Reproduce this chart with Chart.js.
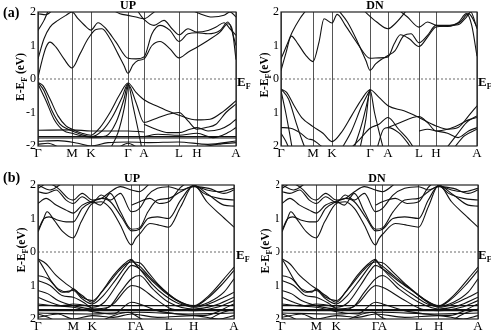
<!DOCTYPE html>
<html>
<head>
<meta charset="utf-8">
<script src="https://cdn.jsdelivr.net/npm/chart.js@4.4.1/dist/chart.umd.min.js"></script>
<style>
  body { margin: 0; background: #fff; overflow: hidden; }
  #fig { position: relative; width: 491px; height: 332px; font-family: "Liberation Serif", "DejaVu Serif", serif; }
  canvas { position: absolute; }
  .lbl { position: absolute; font-weight: bold; color: #000; white-space: nowrap; line-height: 1; }
  .panel { font-size: 14px; }
  .ef { font-size: 13px; }
  .ef sub, .yt sub { font-size: 8px; vertical-align: -3px; }
  .yt { font-size: 11.5px; transform: translate(-50%, -50%) rotate(-90deg); }
</style>
</head>
<body>
<div id="fig">
  <canvas id="aUp" width="245" height="165" style="left:0;top:0"></canvas>
  <canvas id="aDn" width="246" height="165" style="left:245px;top:0"></canvas>
  <canvas id="bUp" width="245" height="159" style="left:0;top:173px"></canvas>
  <canvas id="bDn" width="246" height="159" style="left:245px;top:173px"></canvas>

  <div class="lbl panel" style="left:3px;top:6px">(a)</div>
  <div class="lbl panel" style="left:3px;top:171px">(b)</div>

  <div class="lbl yt" style="left:22px;top:77px">E-E<sub>F</sub> (eV)</div>
  <div class="lbl yt" style="left:266px;top:75px">E-E<sub>F</sub>(eV)</div>
  <div class="lbl yt" style="left:23px;top:250px">E-E<sub>F</sub>(eV)</div>
  <div class="lbl yt" style="left:267px;top:251px">E-E<sub>F</sub>(eV)</div>

  <div class="lbl ef" style="left:237px;top:75px">E<sub>F</sub></div>
  <div class="lbl ef" style="left:478px;top:75px">E<sub>F</sub></div>
  <div class="lbl ef" style="left:236px;top:248px">E<sub>F</sub></div>
  <div class="lbl ef" style="left:478px;top:248px">E<sub>F</sub></div>
</div>

<script>
// k-path labels and positions (path distance, one entry per high-symmetry point)
const kLabels = ["\u0393", "M", "K", "\u0393", "A", "L", "H", "A"];
const kRefA = [0, 34, 53, 90, 106, 141, 159, 198];
const kPathAup = [0, 34, 53, 90, 106, 141, 159, 198];
const kPathAdn = [0, 32, 51, 89, 107, 138, 155, 196];
const kRefB = [0, 35, 54, 93, 101, 132, 155, 195];
const kPathBup = [0, 35, 54, 93, 101, 130, 155, 195];
const kPathBdn = [0, 34, 54, 93, 100, 136, 156, 195];
const eTicks = [-2, -1, 0, 1, 2];

// (a) spin up bands: [k, E] pairs, k on kRefA
const bandsAup = [
  [[0,0.05],[4,0.55],[8,0.95],[12,1.1],[18,0.95],[26,0.6],[34,0.33],[42,0.75],[50,1.2],[58,1.48],[64,1.5],[72,1.2],[80,0.75],[86,0.4],[90,0.17],[95,0.42],[100,0.55],[106,0.6],[114,1.0],[122,1.12],[132,0.9],[141,0.63],[150,0.8],[159,0.95],[170,1.15],[182,1.4],[190,1.65],[194,1.5],[198,0.58]],
  [[0,0.6],[6,1.2],[12,1.55],[20,1.75],[28,1.9],[34,2.0],[40,1.8],[46,1.62],[53,1.46],[60,1.68],[68,1.5],[78,1.1],[90,0.62],[98,0.6],[106,0.66],[114,1.35],[122,1.6],[132,1.45],[141,1.12],[150,1.35],[159,1.38],[170,1.35],[182,1.45],[190,1.7],[198,1.0]],
  [[0,1.45],[6,1.75],[11,2.1]],
  [[0,1.95],[8,1.92],[16,2.1]],
  [[72,2.1],[82,1.95],[90,1.9],[98,1.85],[106,1.8],[114,1.95],[120,2.1]],
  [[98,2.1],[106,1.78],[116,1.6],[126,1.75],[134,1.5],[141,1.32],[150,1.5],[159,1.4],[170,1.45],[178,1.55],[186,1.68],[192,1.5],[198,1.3]],
  [[150,2.1],[162,1.95],[174,1.85],[186,1.9],[192,2.0],[198,1.85]],
  [[0,-0.1],[5,-0.2],[12,-0.6],[20,-1.1],[28,-1.4],[34,-1.5],[44,-1.62],[53,-1.68],[62,-1.45],[72,-1.0],[82,-0.45],[90,-0.12],[98,-0.4],[106,-0.62],[120,-0.82],[132,-0.98],[141,-1.08],[159,-1.22],[172,-1.2],[186,-0.95],[198,-0.65]],
  [[0,-0.1],[6,-0.35],[14,-0.95],[22,-1.35],[30,-1.5],[34,-1.55],[53,-1.72],[64,-1.55],[74,-1.15],[84,-0.55],[90,-0.14],[95,-0.8],[100,-1.5],[104,-2.1]],
  [[0,-0.15],[8,-0.65],[16,-1.2],[26,-1.55],[34,-1.62],[44,-1.7],[53,-1.74],[68,-1.7],[78,-1.3],[86,-0.6],[90,-0.16],[98,-0.7],[106,-1.3],[116,-1.2],[130,-1.05],[141,-1.0],[150,-1.25],[159,-1.5],[168,-1.45],[178,-1.35],[188,-1.0],[198,-0.75]],
  [[72,-2.1],[80,-1.6],[86,-0.9],[90,-0.18]],
  [[106,-1.35],[118,-1.5],[130,-1.6],[141,-1.6],[152,-1.5],[159,-1.45],[170,-1.55],[182,-1.5],[192,-1.35],[198,-1.2]],
  [[106,-1.72],[120,-1.65],[141,-1.68],[159,-1.62],[175,-1.75],[190,-1.6],[198,-1.45]],
  [[0,-1.53],[34,-1.52],[53,-1.55],[90,-1.55],[106,-1.58]],
  [[0,-1.72],[198,-1.72]],
  [[0,-1.76],[198,-1.76]],
  [[0,-1.86],[20,-1.84],[40,-1.92],[53,-2.0],[70,-1.9],[90,-1.88],[110,-1.9],[140,-1.88],[170,-1.95],[198,-1.85]],
  [[0,-1.95],[10,-1.92],[22,-2.05]],
  [[160,-2.05],[180,-1.95],[198,-1.9]],
  [[80,-2.05],[90,-1.92],[100,-2.05]]
];

// (a) spin down bands, k on kRefA
const bandsAdn = [
  [[0,0.25],[5,0.75],[11,1.28],[18,1.05],[26,0.72],[34,0.52],[40,1.1],[45,1.8],[53,1.67],[58,1.93],[66,1.6],[78,1.05],[90,0.62],[98,0.63],[106,0.66],[113,1.05],[120,1.32],[130,1.2],[141,0.97],[150,1.25],[159,1.55],[170,1.58],[180,1.68],[188,1.95],[193,1.6],[198,0.68]],
  [[58,2.1],[68,1.7],[78,1.1],[86,0.55],[90,0.26],[95,0.45],[100,0.58],[106,0.7],[114,0.85],[124,1.3],[132,1.35],[141,1.08],[150,1.3],[159,1.6],[170,1.6],[180,1.62],[188,1.85],[192,2.0],[198,1.5]],
  [[0,0.6],[6,1.0],[12,1.4],[20,1.8],[28,2.1]],
  [[82,2.1],[96,1.7],[106,1.5],[114,1.65],[124,1.95],[128,2.1]],
  [[116,2.1],[128,1.85],[141,1.55],[150,1.7],[159,1.6],[170,1.57],[182,1.7],[190,1.95],[198,1.55]],
  [[0,-0.3],[6,-0.4],[14,-0.8],[22,-1.15],[34,-1.42],[44,-1.62],[53,-1.87],[62,-1.6],[72,-1.1],[82,-0.6],[90,-0.32],[98,-0.55],[106,-0.8],[124,-0.95],[141,-1.15],[159,-1.4],[170,-1.5],[180,-1.45],[190,-1.1],[198,-0.8]],
  [[0,-0.3],[8,-0.6],[16,-1.3],[22,-1.8],[26,-2.1]],
  [[0,-0.35],[5,-1.0],[9,-1.6],[12,-2.1]],
  [[0,-1.45],[10,-1.47],[20,-1.6],[28,-1.78],[34,-1.82],[40,-1.95],[46,-2.1]],
  [[0,-1.62],[5,-1.85],[9,-2.1]],
  [[62,-2.1],[72,-1.55],[82,-0.8],[90,-0.32]],
  [[74,-2.1],[82,-1.35],[88,-0.6],[90,-0.32]],
  [[80,-2.1],[86,-1.2],[90,-0.33],[94,-1.0],[99,-1.7],[102,-2.1]],
  [[70,-2.1],[80,-1.8],[90,-1.47],[98,-1.35],[106,-1.15],[118,-1.5],[130,-1.85],[136,-2.1]],
  [[96,-2.1],[102,-1.5],[106,-1.45],[118,-1.6],[128,-1.9],[133,-2.1]],
  [[106,-1.45],[120,-1.3],[134,-1.15],[141,-1.12],[150,-1.3],[159,-1.55],[170,-1.5],[180,-1.38],[190,-1.22],[198,-1.15]],
  [[141,-1.55],[150,-1.5],[159,-1.55],[170,-1.62],[180,-1.75],[190,-1.55],[198,-1.45]],
  [[168,-2.1],[178,-1.7],[188,-1.3],[198,-1.1]],
  [[175,-2.1],[186,-1.7],[198,-1.5]]
];

// (b) bands, k on kRefB (up and down channels read the same)
const bandsB = [
  [[0,0.6],[5,0.95],[9,1.2],[16,0.95],[25,0.6],[35,0.42],[43,0.9],[54,1.45],[63,1.5],[72,1.3],[82,0.8],[93,0.21],[97,0.4],[101,0.53],[112,0.85],[122,0.8],[132,0.74],[143,1.35],[155,2.0],[168,1.5],[182,1.1],[195,0.74]],
  [[0,0.65],[6,1.0],[11,1.05],[20,0.95],[28,0.9],[35,0.9],[44,1.3],[54,1.5],[63,1.6],[72,1.5],[84,1.0],[93,0.63],[101,0.68],[110,1.0],[120,1.05],[132,1.0],[143,1.55],[155,1.98],[170,1.7],[185,1.4],[195,1.37]],
  [[0,1.45],[8,1.6],[18,1.4],[28,1.25],[35,1.16],[44,1.4],[54,1.5],[62,1.4],[72,1.75],[82,1.2],[93,0.68],[101,0.72],[110,1.2],[120,1.55],[132,1.6],[143,1.8],[155,1.97],[165,1.75],[180,1.6],[195,1.55]],
  [[0,1.8],[8,1.75],[18,1.85],[28,1.55],[35,1.45],[44,1.65],[54,1.48],[63,1.7],[72,1.55],[82,1.75],[93,1.2],[101,1.3],[110,1.7],[120,1.9],[132,1.95],[143,1.85],[155,1.95],[170,1.9],[185,1.75],[195,1.85]],
  [[0,1.9],[10,2.05],[20,1.9],[30,1.6],[35,1.55],[44,1.75],[54,1.55],[63,1.6],[72,1.8],[82,1.95],[93,1.85],[101,1.8],[112,2.05]],
  [[0,2.0],[12,1.85],[24,2.05]],
  [[93,1.4],[101,1.5],[112,1.6],[122,1.45],[132,1.5],[142,1.9],[150,2.1]],
  [[155,2.0],[168,1.85],[180,1.8],[195,1.9]],
  [[0,-0.2],[8,-0.35],[18,-0.7],[28,-0.95],[35,-1.1],[44,-1.3],[54,-1.5],[63,-1.2],[75,-0.7],[86,-0.35],[93,-0.22],[97,-0.35],[101,-0.42],[112,-0.75],[125,-1.1],[140,-1.45],[155,-1.6],[170,-1.3],[185,-0.8],[195,-0.45]],
  [[0,-0.2],[6,-0.5],[14,-0.9],[24,-1.2],[35,-1.15],[44,-1.4],[54,-1.55],[65,-1.3],[78,-0.8],[88,-0.4],[93,-0.25],[98,-0.4],[101,-0.5],[114,-0.95],[128,-1.3],[142,-1.55],[155,-1.62],[168,-1.4],[182,-1.0],[195,-0.55]],
  [[0,-0.7],[10,-0.8],[20,-1.1],[30,-1.2],[35,-1.1],[44,-1.35],[54,-1.45],[66,-1.1],[78,-0.65],[88,-0.35],[93,-0.3],[101,-0.32],[110,-0.6],[122,-1.0],[138,-1.4],[155,-1.62],[170,-1.5],[185,-1.2],[195,-0.8]],
  [[0,-0.85],[12,-1.0],[24,-1.3],[35,-1.35],[45,-1.5],[54,-1.65],[66,-1.5],[78,-1.0],[88,-0.55],[93,-0.4],[101,-0.5],[114,-0.85],[130,-1.25],[145,-1.55],[155,-1.65],[170,-1.55],[185,-1.35],[195,-1.2]],
  [[0,-1.15],[10,-1.25],[20,-1.45],[35,-1.6],[54,-1.7],[70,-1.65],[82,-1.2],[93,-0.8],[101,-0.7],[115,-1.1],[132,-1.5],[155,-1.7],[175,-1.6],[195,-1.35]],
  [[0,-1.35],[12,-1.5],[24,-1.6],[35,-1.55],[48,-1.6],[60,-1.75],[75,-1.55],[88,-1.1],[93,-1.0],[101,-1.05],[118,-1.4],[135,-1.7],[155,-1.75],[178,-1.65],[195,-1.45]],
  [[0,-1.55],[15,-1.6],[35,-1.65],[54,-1.78],[75,-1.85],[93,-1.5],[101,-1.55],[120,-1.75],[140,-1.85],[165,-1.9],[195,-1.55]],
  [[0,-1.85],[10,-1.95],[20,-2.1]],
  [[60,-2.1],[75,-1.9],[90,-1.8],[100,-1.95],[110,-2.1]],
  [[165,-2.1],[180,-1.85],[195,-1.7]],
  [[0,-1.6],[195,-1.6]],
  [[0,-1.72],[195,-1.72]],
  [[0,-1.75],[195,-1.75]],
  [[0,-1.82],[50,-1.85],[100,-1.8],[150,-1.85],[195,-1.82]],
  [[0,-1.95],[20,-1.85],[35,-2.0],[54,-1.9],[75,-1.95],[93,-1.85],[120,-1.95],[155,-1.9],[180,-2.0],[195,-1.9]]
];

const serif = "'Liberation Serif', 'DejaVu Serif', serif";

// map a k value on the reference path onto a panel's own path
function mapK(k, ref, path) {
  for (let i = 0; i < ref.length - 1; i++) {
    if (k <= ref[i + 1]) {
      const f = (k - ref[i]) / (ref[i + 1] - ref[i]);
      return path[i] + f * (path[i + 1] - path[i]);
    }
  }
  return path[path.length - 1];
}

const framePlugin = {
  id: "frame",
  afterDatasetsDraw(chart) {
    const { ctx, chartArea: a } = chart;
    ctx.save();
    ctx.strokeStyle = "#222";
    ctx.lineWidth = 1.2;
    ctx.strokeRect(a.left, a.top, a.right - a.left, a.bottom - a.top);
    ctx.restore();
  }
};

function makePanel(id, title, bands, kRef, kPath, lay) {
  const kMax = kPath[kPath.length - 1];
  const datasets = bands.map(b => ({
    data: b.map(p => ({ x: mapK(p[0], kRef, kPath), y: p[1] })),
    borderColor: "#111",
    borderWidth: 1.1,
    pointRadius: 0,
    fill: false,
    cubicInterpolationMode: "monotone"
  }));
  datasets.push({
    data: [{ x: 0, y: 0 }, { x: kMax, y: 0 }],
    borderColor: "#444",
    borderWidth: 0.8,
    borderDash: [2, 2],
    pointRadius: 0
  });

  new Chart(document.getElementById(id).getContext("2d"),
  {
    type: "line",
    data: { datasets: datasets },
    options:
    {
      animation: false,
      responsive: false,
      devicePixelRatio: 1,
      events: [],
      layout: { padding: { left: lay.padL, right: lay.padR, top: 0, bottom: 0 } },
      scales:
      {
        x:
        {
          type: "linear",
          min: 0,
          max: kMax,
          afterBuildTicks: s => { s.ticks = kPath.map(v => ({ value: v })); },
          afterFit: s => { s.height = lay.xH; },
          ticks:
          {
            autoSkip: false,
            maxRotation: 0,
            padding: 0,
            color: "#000",
            font: { family: serif, size: 13 },
            callback: (v, i) => kLabels[i]
          },
          grid: { color: "#555", lineWidth: 1, drawTicks: false },
          border: { display: false }
        },
        y:
        {
          min: -2,
          max: 2,
          afterBuildTicks: s => { s.ticks = eTicks.map(v => ({ value: v })); },
          afterFit: s => { s.width = lay.yW; },
          ticks:
          {
            padding: 2,
            color: "#000",
            font: { family: serif, size: 12 }
          },
          grid: { display: false, drawTicks: false },
          border: { display: false }
        }
      },
      plugins:
      {
        legend: { display: false },
        tooltip: { enabled: false },
        title:
        {
          display: true,
          text: title,
          color: "#000",
          font: { family: serif, size: 12, weight: "bold", lineHeight: 1 },
          padding: 0
        }
      }
    },
    plugins: [framePlugin]
  });
}

makePanel("aUp", "UP", bandsAup, kRefA, kPathAup, { padL: 20, yW: 18, padR: 9, xH: 19 });
makePanel("aDn", "DN", bandsAdn, kRefA, kPathAdn, { padL: 28, yW: 8, padR: 14, xH: 19 });
makePanel("bUp", "UP", bandsB, kRefB, kPathBup, { padL: 30, yW: 8, padR: 11, xH: 13 });
makePanel("bDn", "DN", bandsB, kRefB, kPathBdn, { padL: 31, yW: 6, padR: 13, xH: 13 });
</script>
</body>
</html>
